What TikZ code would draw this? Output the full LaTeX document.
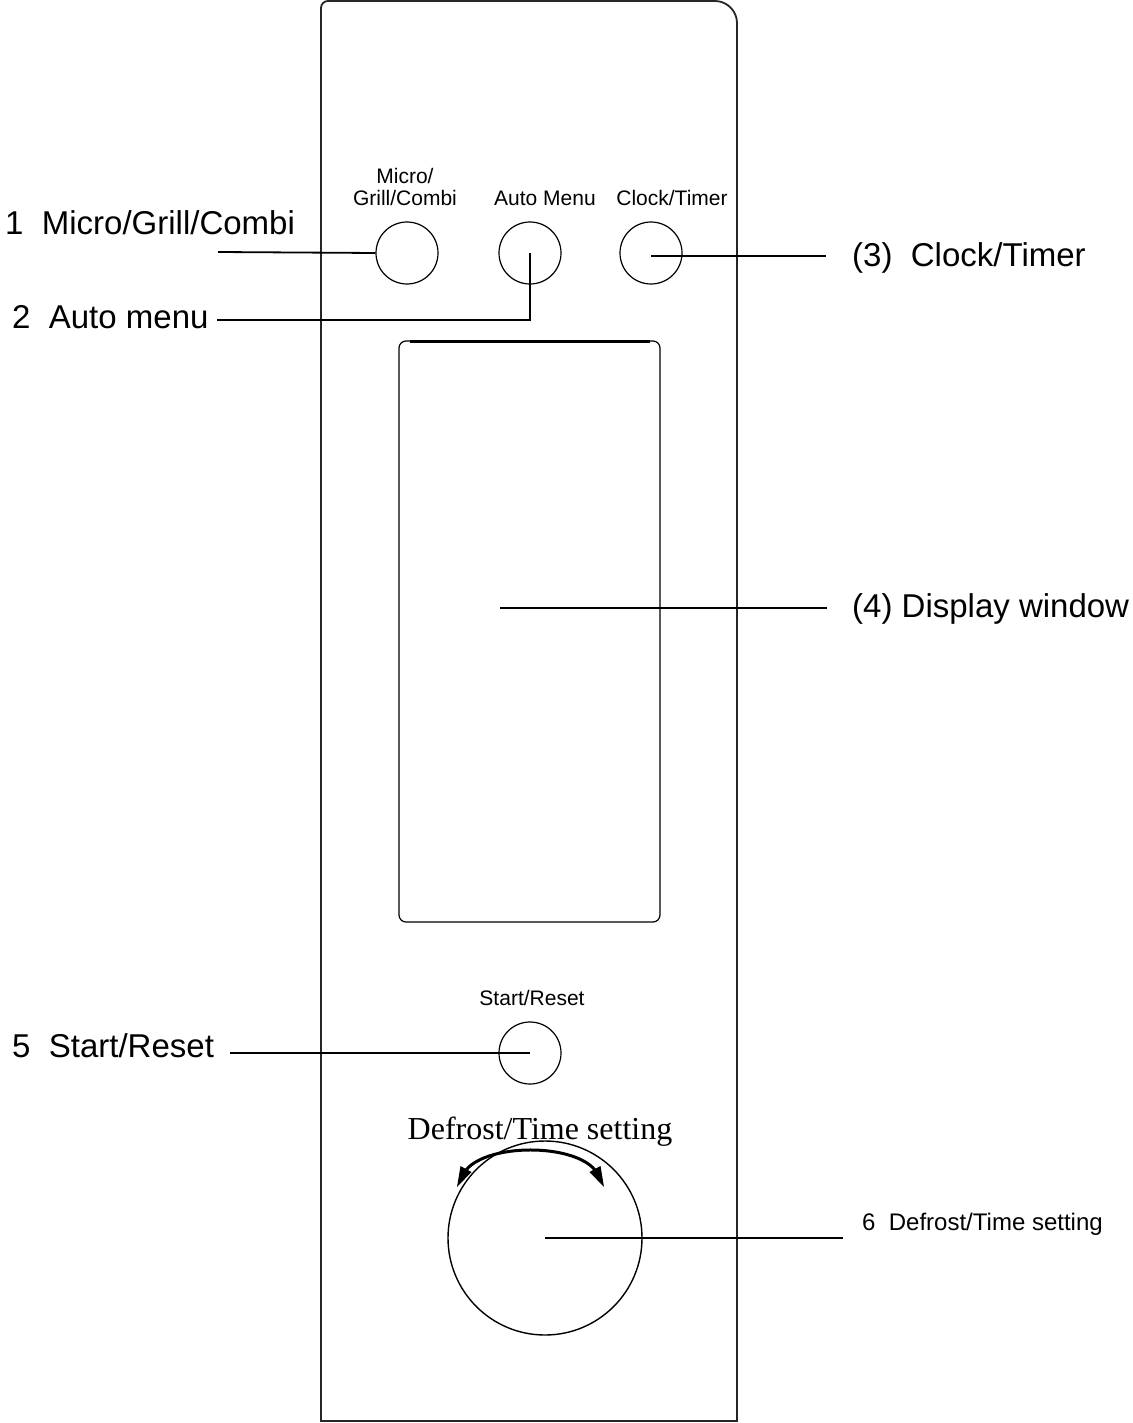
\documentclass[tikz,border=0pt]{standalone}
\usepackage{fontspec}
\setmainfont{Liberation Sans}
\newfontfamily\serifface{Liberation Serif}
\begin{document}
\begin{tikzpicture}[x=1pt,y=-1pt,
  panelline/.style={line width=1.8pt,black!85},
  btn/.style={circle,draw,line width=1.2pt,minimum size=62pt,inner sep=0pt},
  conn/.style={line width=1.8pt,black},
  thinconn/.style={line width=1.2pt,black},
  biglabel/.style={anchor=base west,inner sep=0pt,font=\fontsize{33}{36}\selectfont},
  smalllabel/.style={anchor=base,inner sep=0pt,font=\fontsize{21}{24}\selectfont},
  midlabel/.style={anchor=base west,inner sep=0pt,font=\fontsize{24}{28}\selectfont}]
\useasboundingbox (0,0) rectangle (1132,1423);
% panel
\draw[panelline] (321,1421) -- (321,8) .. controls (321,4) and (324,1) .. (328,1)
  -- (715,1) .. controls (727,1) and (737,11) .. (737,23) -- (737,1421) -- cycle;
% buttons
\node[btn] (micro) at (407,253) {};
\node[btn] (auto) at (530,253) {};
\node[btn] (clock) at (651,253) {};
\node[btn] (start) at (530,1053) {};
\node[circle,draw,line width=1.4pt,minimum size=194pt,inner sep=0pt] (knob) at (545,1238) {};
% display window
\node[draw,line width=1.2pt,rounded corners=7pt,minimum width=261pt,minimum height=581pt,inner sep=0pt] (display) at (529.5,631.5) {};
\draw[line width=2.2pt] (410,341.5) -- (650,341.5);
% button captions
\node[smalllabel] (capmicro1) at (405,183.5) {Micro/};
\node[smalllabel] (capmicro2) at (405,205.5) {Grill/Combi};
\node[smalllabel] (capauto) at (545,205.5) {Auto Menu};
\node[smalllabel] (capclock) at (672,205.5) {Clock/Timer};
\node[smalllabel] (capstart) at (532,1005.5) {Start/Reset};
\node[anchor=base,inner sep=0pt,font=\serifface\fontsize{32}{36}\selectfont] (capknob) at (540,1139) {Defrost/Time setting};
% rotation arrow
\coordinate (abl) at (466,1170);
\coordinate (abr) at (595,1170);
\draw[line width=3pt] (abl) .. controls (488,1143.3) and (573,1143.3) .. (abr);
\fill (457,1187) -- (471.5,1172) -- (460.5,1166) -- cycle;
\fill (604,1187) -- (589.5,1172) -- (600.5,1166) -- cycle;
% callout labels
\node[biglabel] (l1) at (5,235) {1\ \ Micro/Grill/Combi};
\node[biglabel] (l2) at (12,328) {2\ \ Auto menu};
\node[biglabel] (l3) at (852,266) {(3)\ \ Clock/Timer};
\node[biglabel] (l4) at (852,617) {(4) Display window};
\node[biglabel] (l5) at (12,1057.5) {5\ \ Start/Reset};
\node[midlabel] (l6) at (862,1230) {6\ \ Defrost/Time setting};
% connector end points
\coordinate (e1) at (218,252);
\coordinate (e2) at (217,320);
\coordinate (e3) at (826,256);
\coordinate (d4) at (500,608);
\coordinate (e4) at (827,608);
\coordinate (e5) at (230,1053);
\coordinate (e6) at (843,1238);
% connectors
\draw[conn] (e1) -- (micro.west);
\draw[conn] (auto.center) -- (auto.center |- e2) -- (e2);
\draw[conn] (clock.center |- e3) -- (e3);
\draw[thinconn] (d4) -- (e4);
\draw[thinconn] (e5) -- (start.center);
\draw[thinconn] (knob.center) -- (e6);
\end{tikzpicture}
\end{document}
